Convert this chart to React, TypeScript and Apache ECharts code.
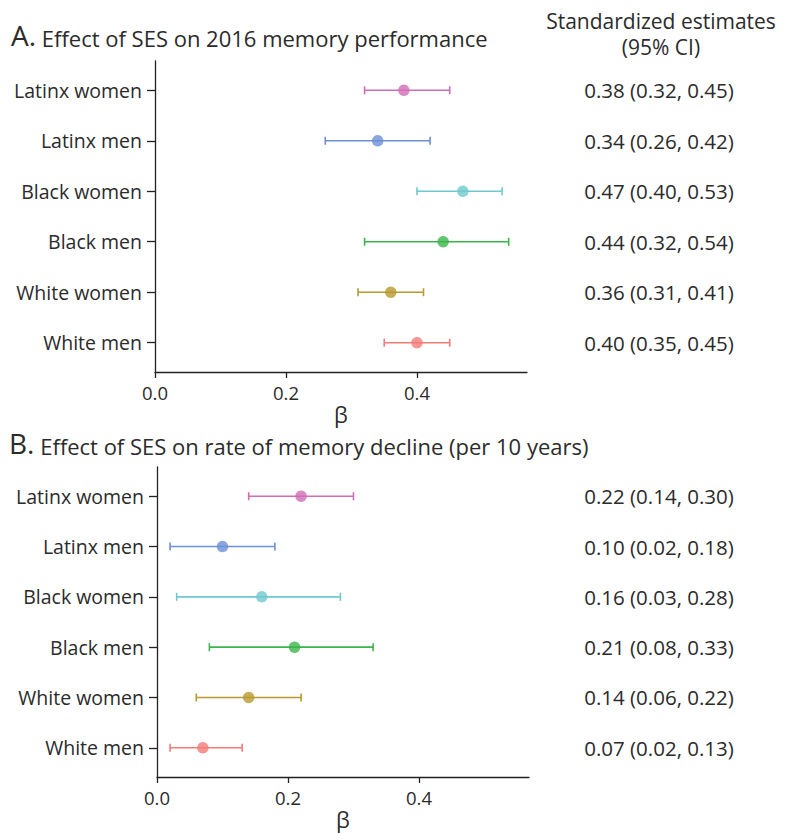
import React, { useEffect, useRef } from "react";
import * as echarts from "echarts";

const categories = ["Latinx women", "Latinx men", "Black women", "Black men", "White women", "White men"];
const colors = ["#CF6DB6", "#6B90D6", "#6FC9CE", "#3AB54A", "#B79A2C", "#F27C78"];

const estA = [0.38, 0.34, 0.47, 0.44, 0.36, 0.40];
const loA = [0.32, 0.26, 0.40, 0.32, 0.31, 0.35];
const hiA = [0.45, 0.42, 0.53, 0.54, 0.41, 0.45];

const estB = [0.22, 0.10, 0.16, 0.21, 0.14, 0.07];
const loB = [0.14, 0.02, 0.03, 0.08, 0.06, 0.02];
const hiB = [0.30, 0.18, 0.28, 0.33, 0.22, 0.13];

const xTicks = [0, 0.2, 0.4];
const titleA = "Effect of SES on 2016 memory performance";
const titleB = "Effect of SES on rate of memory decline (per 10 years)";
const headerLines = ["Standardized estimates", "(95% CI)"];

const FONT = "Open Sans";
const TXT = "#2b2b2b";
const AX = "#222222";

const fmt = (e: number, l: number, h: number) => `${e.toFixed(2)} (${l.toFixed(2)}, ${h.toFixed(2)})`;

export default function App() {
  const ref = useRef<HTMLDivElement>(null);
  useEffect(() => {
    if (!ref.current) return;
    const chart = echarts.init(ref.current, null, { renderer: "svg" });
    const idx = categories.map((_, i) => i);
    const yMin = -0.58;
    const yMax = 5.58;
    const xMax = 0.568;

    const mkX = (gi: number) => ({
      type: "value",
      gridIndex: gi,
      min: 0,
      max: xMax,
      name: "β",
      nameLocation: "middle",
      nameGap: 29,
      nameTextStyle: { fontFamily: FONT, fontSize: 22, color: TXT },
      axisLine: { show: true, onZero: false, lineStyle: { color: AX, width: 1.3 } },
      axisTick: { show: true, length: 6, lineStyle: { color: AX, width: 1.3 }, customValues: xTicks },
      axisLabel: {
        customValues: xTicks,
        formatter: (v: number) => v.toFixed(1),
        fontFamily: FONT,
        fontSize: 18.5,
        color: TXT,
        margin: 11,
      },
      splitLine: { show: false },
    });

    const mkYLeft = (gi: number) => ({
      type: "value",
      gridIndex: gi,
      min: yMin,
      max: yMax,
      inverse: true,
      position: "left",
      axisLine: { show: true, onZero: false, lineStyle: { color: AX, width: 1.3 } },
      axisTick: { show: true, length: 8, lineStyle: { color: AX, width: 1.3 }, customValues: idx },
      axisLabel: {
        customValues: idx,
        formatter: (v: number) => categories[Math.round(v)] ?? "",
        fontFamily: FONT,
        fontSize: 19.5,
        color: TXT,
        margin: 13,
      },
      splitLine: { show: false },
    });

    const mkYRight = (gi: number, e: number[], l: number[], h: number[], margin: number) => ({
      type: "value",
      gridIndex: gi,
      min: yMin,
      max: yMax,
      inverse: true,
      position: "right",
      axisLine: { show: false, onZero: false },
      axisTick: { show: false },
      axisLabel: {
        customValues: idx,
        formatter: (v: number) => {
          const i = Math.round(v);
          return i >= 0 && i < e.length ? fmt(e[i], l[i], h[i]) : "";
        },
        fontFamily: FONT,
        fontSize: 20.5,
        color: TXT,
        align: "center",
        margin,
      },
      splitLine: { show: false },
    });

    const errSeries = (xi: number, yi: number, l: number[], h: number[]) => ({
      type: "custom",
      xAxisIndex: xi,
      yAxisIndex: yi,
      data: idx.map((i) => [l[i], h[i], i]),
      encode: { x: [0, 1], y: 2 },
      renderItem: (params: any, api: any) => {
        const i = api.value(2);
        const p1 = api.coord([api.value(0), i]);
        const p2 = api.coord([api.value(1), i]);
        const c = colors[i];
        const cap = 4;
        const st = { stroke: c, lineWidth: 1.6 };
        return {
          type: "group",
          children: [
            { type: "line", shape: { x1: p1[0], y1: p1[1], x2: p2[0], y2: p2[1] }, style: st },
            { type: "line", shape: { x1: p1[0], y1: p1[1] - cap, x2: p1[0], y2: p1[1] + cap }, style: st },
            { type: "line", shape: { x1: p2[0], y1: p2[1] - cap, x2: p2[0], y2: p2[1] + cap }, style: st },
          ],
        };
      },
      silent: true,
    });

    const dotSeries = (xi: number, yi: number, e: number[]) => ({
      type: "scatter",
      xAxisIndex: xi,
      yAxisIndex: yi,
      symbol: "circle",
      symbolSize: 11.5,
      data: idx.map((i) => ({ value: [e[i], i], itemStyle: { color: colors[i] } })),
      silent: true,
      z: 5,
    });

    const richTitle = {
      a: { fontFamily: FONT, fontSize: 28, fontWeight: "normal", color: TXT, verticalAlign: "bottom" },
      b: { fontFamily: FONT, fontSize: 22, fontWeight: "normal", color: TXT, verticalAlign: "bottom" },
    };

    chart.setOption({
      animation: false,
      backgroundColor: "#ffffff",
      title: [
        {
          text: `{a|A.}{b| ${titleA}}`,
          left: 6,
          top: 16,
          textStyle: { fontWeight: "normal", rich: richTitle },
        },
        {
          text: `{a|B.}{b| ${titleB}}`,
          left: 4,
          top: 424,
          textStyle: { fontWeight: "normal", rich: richTitle },
        },
      ],
      graphic: headerLines.map((t, i) => ({
        type: "text",
        x: 661,
        y: 21 + i * 26,
        style: {
          text: t,
          fontFamily: FONT,
          fontSize: 21,
          fill: TXT,
          align: "center",
          verticalAlign: "middle",
        },
      })),
      grid: [
        { left: 155, top: 61, width: 372, height: 311 },
        { left: 157, top: 467, width: 372, height: 310 },
      ],
      xAxis: [mkX(0), mkX(1)],
      yAxis: [
        mkYLeft(0),
        mkYRight(0, estA, loA, hiA, 659 - (155 + 372)),
        mkYLeft(1),
        mkYRight(1, estB, loB, hiB, 659 - (157 + 372)),
      ],
      series: [
        errSeries(0, 0, loA, hiA),
        dotSeries(0, 0, estA),
        errSeries(1, 2, loB, hiB),
        dotSeries(1, 2, estB),
      ],
    });
    return () => chart.dispose();
  }, []);
  return <div ref={ref} style={{ position: "absolute", left: 0, top: 0, width: 786, height: 833 }} />;
}
